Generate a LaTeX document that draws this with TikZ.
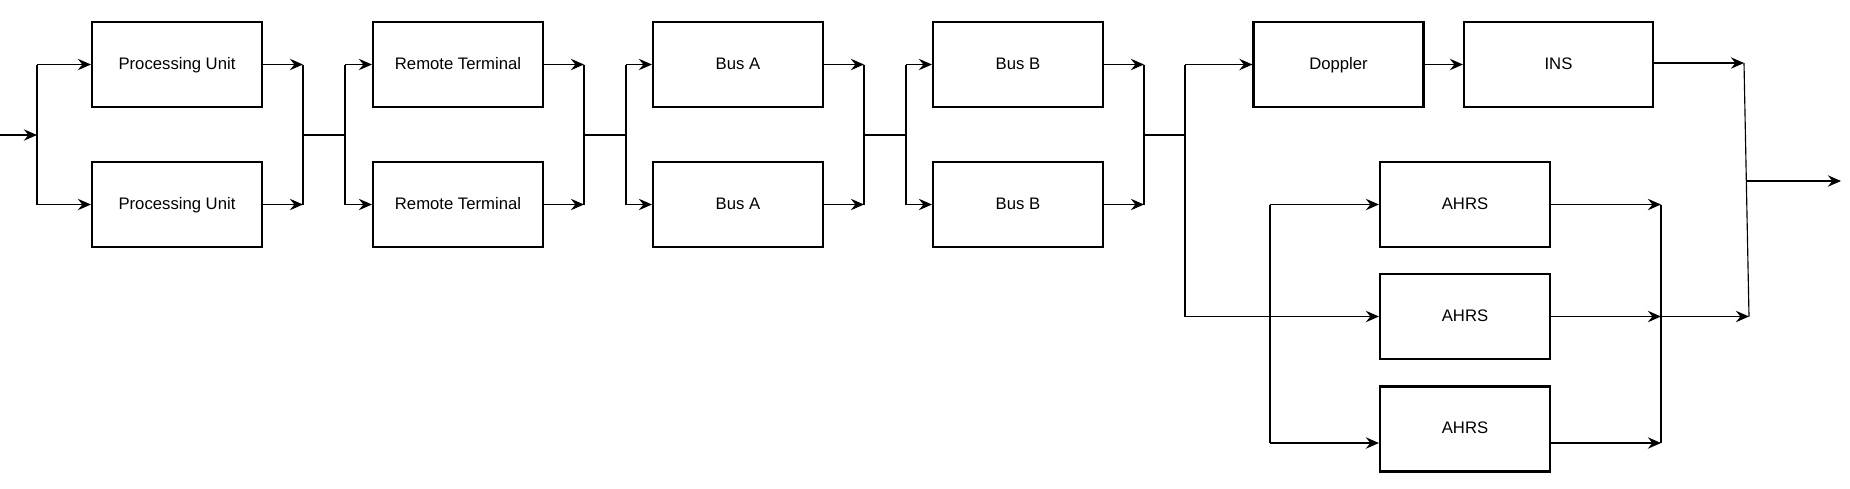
\documentclass[tikz,border=0pt]{standalone}
\usepackage{fontspec}
\setmainfont{Liberation Sans}
\usepackage{tikz}
\usetikzlibrary{arrows.meta}
\newcommand\nodepu{Processing Unit}
\newcommand\nodert{Remote Terminal}
\newcommand\nodebusa{Bus A}
\newcommand\nodebusb{Bus B}
\newcommand\nodedop{Doppler}
\newcommand\nodeins{INS}
\newcommand\nodeahrs{AHRS}
\tikzstyle{blk} = [rectangle, draw=black, line width=1.2pt, minimum width=3.4cm, minimum height=1.7cm, inner sep=0pt, text height=0.72em, text depth=0.2em, font=\fontsize{9.5}{11}\selectfont]
\tikzstyle{wideblk} = [blk, minimum width=3.78cm]
\tikzset{>={Stealth[length=7.5pt, width=6.5pt, inset=2.6pt]}, every picture/.style={line width=0.65pt}}
\begin{document}
\begin{tikzpicture}[x=0.02cm, y=-0.02cm]
\useasboundingbox (0,0) rectangle (1850,488);
\node[blk] (pua) at (177, 64.5) {\nodepu};
\node[blk] (pub) at (177, 204.5) {\nodepu};
\node[blk] (rta) at (458, 64.5) {\nodert};
\node[blk] (rtb) at (458, 204.5) {\nodert};
\node[blk] (busaa) at (738, 64.5) {\nodebusa};
\node[blk] (busab) at (738, 204.5) {\nodebusa};
\node[blk] (busba) at (1018, 64.5) {\nodebusb};
\node[blk] (busbb) at (1018, 204.5) {\nodebusb};
\node[blk] (dop) at (1338.5, 64.5) {\nodedop};
\node[wideblk] (ins) at (1558.5, 64.5) {\nodeins};
\node[blk] (ahrsa) at (1465, 204.5) {\nodeahrs};
\node[blk] (ahrsb) at (1465, 316.5) {\nodeahrs};
\node[blk] (ahrsc) at (1465, 429) {\nodeahrs};
% junctions
\coordinate (in) at (0, 135);
\coordinate (s0) at (37, 135);
\coordinate (s0a) at (37, 64.5);
\coordinate (s0b) at (37, 204.5);
\coordinate (m1) at (303, 135);
\coordinate (m1a) at (303, 64.5);
\coordinate (m1b) at (303, 204.5);
\coordinate (s1) at (345, 135);
\coordinate (s1a) at (345, 64.5);
\coordinate (s1b) at (345, 204.5);
\coordinate (m2) at (584, 135);
\coordinate (m2a) at (584, 64.5);
\coordinate (m2b) at (584, 204.5);
\coordinate (s2) at (626, 135);
\coordinate (s2a) at (626, 64.5);
\coordinate (s2b) at (626, 204.5);
\coordinate (m3) at (864, 135);
\coordinate (m3a) at (864, 64.5);
\coordinate (m3b) at (864, 204.5);
\coordinate (s3) at (906, 135);
\coordinate (s3a) at (906, 64.5);
\coordinate (s3b) at (906, 204.5);
\coordinate (m4) at (1144, 135);
\coordinate (m4a) at (1144, 64.5);
\coordinate (m4b) at (1144, 204.5);
\coordinate (s4) at (1185, 135);
\coordinate (s4a) at (1185, 64.5);
\coordinate (s4b) at (1185, 316.5);
\coordinate (t1) at (1270, 204.5);
\coordinate (t3) at (1270, 443);
\coordinate (u1) at (1661, 204.5);
\coordinate (u2) at (1661, 316.5);
\coordinate (u3) at (1661, 443);
\coordinate (v1) at (1744, 63);
\coordinate (v2) at (1749, 316.5);
\coordinate (vo) at (1747, 181);
\coordinate (out) at (1841, 181);
% input
\draw [->] (in) -- (s0);
\draw (s0a) -- (s0b);
\draw [->] (s0a) -- (pua);
\draw [->] (s0b) -- (pub);
% processing units to remote terminals
\draw [->] (pua) -- (m1a);
\draw [->] (pub) -- (m1b);
\draw (m1a) -- (m1b);
\draw (m1) -- (s1);
\draw (s1a) -- (s1b);
\draw [->] (s1a) -- (rta);
\draw [->] (s1b) -- (rtb);
% remote terminals to bus a
\draw [->] (rta) -- (m2a);
\draw [->] (rtb) -- (m2b);
\draw (m2a) -- (m2b);
\draw (m2) -- (s2);
\draw (s2a) -- (s2b);
\draw [->] (s2a) -- (busaa);
\draw [->] (s2b) -- (busab);
% bus a to bus b
\draw [->] (busaa) -- (m3a);
\draw [->] (busab) -- (m3b);
\draw (m3a) -- (m3b);
\draw (m3) -- (s3);
\draw (s3a) -- (s3b);
\draw [->] (s3a) -- (busba);
\draw [->] (s3b) -- (busbb);
% bus b to navigation
\draw [->] (busba) -- (m4a);
\draw [->] (busbb) -- (m4b);
\draw (m4a) -- (m4b);
\draw (m4) -- (s4);
\draw (s4a) -- (s4b);
\draw [->] (s4a) -- (dop);
\draw [->] (dop) -- (ins);
\draw [->] (s4b) -- (ahrsb);
\draw (t1) -- (t3);
\draw [->] (t1) -- (ahrsa);
\draw [->] (t3) -- (ahrsc.west |- t3);
\draw [->] (ahrsa) -- (u1);
\draw [->] (ahrsb) -- (u2);
\draw [->] (ahrsc.east |- u3) -- (u3);
\draw (u1) -- (u3);
% output
\draw [->] (ins.east |- v1) -- (v1);
\draw [->] (u2) -- (v2);
\draw (v1) -- (v2);
\draw [->] (vo) -- (out);
\end{tikzpicture}
\end{document}
